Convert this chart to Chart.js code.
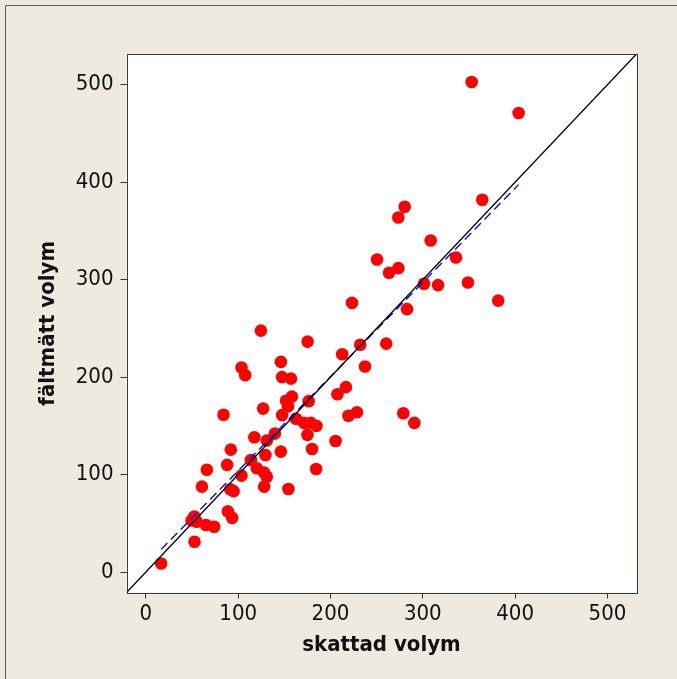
<!DOCTYPE html>
<html>
<head>
<meta charset="utf-8">
<script src="https://cdn.jsdelivr.net/npm/chart.js@4"></script>
<style>
  html, body { margin: 0; padding: 0; background: #EEEAE0; }
  #wrap { width: 677px; height: 679px; }
</style>
</head>
<body>
<div id="wrap"><canvas id="c" width="677" height="679"></canvas></div>
<script>
// Data
const skattadVolym = [16.5, 52.7, 52.5, 49.5, 55.0, 65.0, 74.0, 60.7, 66.1, 88.8,
  93.5, 88.0, 92.0, 91.5, 95.0, 103.6, 84.1, 113.8, 117.5, 120.2,
  128.1, 131.0, 128.1, 129.5, 131.0, 139.7, 146.2, 154.4, 127.0, 124.6,
  103.6, 107.6, 146.3, 147.5, 157.2, 158.2, 151.8, 176.3, 154.0, 147.6,
  162.6, 171.4, 178.7, 184.8, 175.0, 180.0, 184.4, 175.2, 205.5, 207.5,
  216.7, 219.4, 228.6, 212.7, 232.2, 237.4, 223.3, 260.4, 278.9, 290.8,
  282.9, 352.9, 403.8, 364.4, 280.4, 273.5, 308.5, 250.4, 335.9, 273.5,
  263.4, 301.3, 316.5, 348.9, 381.7];
const faltmattVolym = [8.7, 31.1, 57.0, 53.0, 51.6, 48.3, 46.5, 87.6, 105.0, 62.2,
  55.6, 109.9, 125.6, 85.0, 83.0, 98.9, 161.3, 115.0, 138.3, 106.5,
  102.0, 97.8, 87.6, 120.1, 135.0, 142.0, 123.5, 85.2, 167.7, 247.7,
  209.8, 202.0, 215.6, 200.0, 198.4, 180.0, 175.8, 175.3, 170.0, 161.0,
  157.3, 153.0, 153.0, 150.0, 140.7, 126.2, 105.7, 236.4, 134.5, 182.4,
  189.7, 160.4, 164.0, 223.5, 233.2, 210.8, 276.2, 234.3, 162.9, 153.0,
  269.7, 502.8, 470.9, 381.9, 374.7, 363.8, 340.2, 320.6, 322.7, 311.8,
  307.0, 295.7, 294.4, 297.0, 278.5];
// Fitted regression line (end points)
const fitX = [16.5, 403.8];
const fitY = [23.2, 397.5];
// Reference line y = x across the axis range
const axisMin = -21;
const axisMax = 531.5;
const refLine = [axisMin, axisMax];
const xTicks = [0, 100, 200, 300, 400, 500];
const yTicks = [0, 100, 200, 300, 400, 500];

const FONT = "'DejaVu Sans Condensed', 'DejaVu Sans', sans-serif";

const framePlugin = {
  id: 'frame',
  beforeDraw(chart) {
    const ctx = chart.ctx, a = chart.chartArea;
    ctx.save();
    ctx.fillStyle = '#EEEAE0';
    ctx.fillRect(0, 0, chart.width, chart.height);
    ctx.strokeStyle = '#5a5a5a';
    ctx.lineWidth = 1;
    ctx.beginPath();
    ctx.moveTo(5.5, chart.height);
    ctx.lineTo(5.5, 5.5);
    ctx.lineTo(chart.width, 5.5);
    ctx.stroke();
    ctx.fillStyle = '#ffffff';
    ctx.fillRect(a.left, a.top, a.right - a.left, a.bottom - a.top);
    ctx.restore();
  },
  afterDraw(chart) {
    const ctx = chart.ctx, a = chart.chartArea;
    ctx.save();
    ctx.strokeStyle = '#3a3a3a';
    ctx.lineWidth = 1;
    ctx.strokeRect(Math.round(a.left) + 0.5, Math.round(a.top) + 0.5,
      Math.round(a.right - a.left), Math.round(a.bottom - a.top));
    ctx.restore();
  }
};

new Chart(document.getElementById('c'), {
  type: 'scatter',
  data: {
    datasets: [
      {
        label: 'obs',
        data: skattadVolym.map((x, i) => ({ x: x, y: faltmattVolym[i] })),
        backgroundColor: '#FF0000',
        borderWidth: 0,
        pointRadius: 6.3,
        pointHoverRadius: 6.3,
        order: 3
      },
      {
        label: 'y=x',
        type: 'scatter',
        data: refLine.map(v => ({ x: v, y: v })),
        showLine: true,
        borderColor: '#000000',
        borderWidth: 1.3,
        pointRadius: 0,
        order: 1
      },
      {
        label: 'fit',
        type: 'scatter',
        data: fitX.map((x, i) => ({ x: x, y: fitY[i] })),
        showLine: true,
        borderColor: '#0000ff',
        borderWidth: 1.3,
        borderDash: [9, 5],
        pointRadius: 0,
        order: 2
      }
    ]
  },
  options: {
    responsive: false,
    animation: false,
    events: [],
    layout: { padding: { left: 0, top: 54, right: 40.5, bottom: 0 } },
    plugins: { legend: { display: false }, tooltip: { enabled: false } },
    scales: {
      x: {
        type: 'linear',
        position: 'bottom',
        min: axisMin,
        max: axisMax,
        afterBuildTicks: s => { s.ticks = xTicks.map(v => ({ value: v })); },
        afterFit: s => { s.height = 86.5; },
        border: { display: false },
        grid: { display: true, drawOnChartArea: false, drawTicks: true, tickLength: 6, color: '#333', lineWidth: 1 },
        ticks: { color: '#111', font: { family: FONT, size: 22 }, padding: 3, maxRotation: 0, autoSkip: false },
        title: { display: true, text: 'skattad volym', color: '#111',
          font: { family: FONT, size: 22, weight: 'bold' }, padding: { top: 0, bottom: 21 } }
      },
      y: {
        type: 'linear',
        position: 'left',
        min: axisMin,
        max: axisMax,
        afterBuildTicks: s => { s.ticks = yTicks.map(v => ({ value: v })); },
        afterFit: s => { s.width = 126.5; },
        border: { display: false },
        grid: { display: true, drawOnChartArea: false, drawTicks: true, tickLength: 6, color: '#333', lineWidth: 1 },
        ticks: { color: '#111', font: { family: FONT, size: 22 }, padding: 7, autoSkip: false },
        title: { display: true, text: 'fältmätt volym', color: '#111',
          font: { family: FONT, size: 22, weight: 'bold' }, padding: { top: 35, bottom: 0 } }
      }
    }
  },
  plugins: [framePlugin]
});
</script>
</body>
</html>
